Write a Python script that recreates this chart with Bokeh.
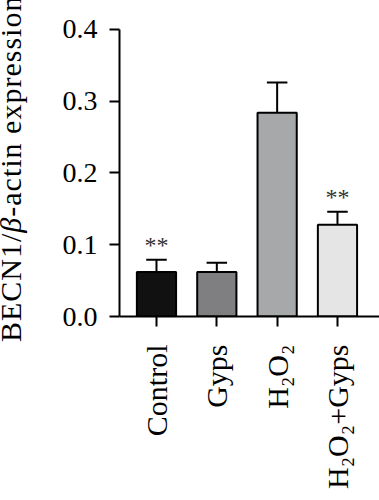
import math
from bokeh.plotting import figure
from bokeh.layouts import row
from bokeh.models import ColumnDataSource, FixedTicker, Range1d, Div
from bokeh.core.properties import value
from bokeh.embed import file_html
from bokeh.resources import INLINE

groups = ["Control", "Gyps", "H\u2082O\u2082", "H\u2082O\u2082+Gyps"]
means = [0.062, 0.062, 0.284, 0.128]
errs = [0.017, 0.013, 0.042, 0.018]
colors = ["#111111", "#7f7f81", "#a7a8aa", "#e5e5e5"]
stars = ["**", "", "", "**"]
yticks = [0.0, 0.1, 0.2, 0.3, 0.4]
ylabel_parts = ["BECN1/", "\u03b2", "-actin expression"]

FONT = "Liberation Serif"
xs = list(range(len(groups)))
tops = [m + e for m, e in zip(means, errs)]

DIVW = 30
H = 492
FW = 371 - DIVW
MBL = 79
X0 = -0.613
X1 = X0 + (FW - MBL) / 60.33
Y0, Y1 = 0.0, 0.4264
p = figure(width=FW, height=H, output_backend="svg", toolbar_location=None,
           x_range=Range1d(X0, X1), y_range=Range1d(Y0, Y1),
           min_border_left=MBL, min_border_right=0, min_border_top=10,
           min_border_bottom=175)
p.outline_line_color = None
p.grid.visible = False
p.background_fill_color = "white"

src = ColumnDataSource(dict(x=xs, m=means, top=tops, c=colors,
                            xl=[x - 0.17 for x in xs], xr=[x + 0.17 for x in xs],
                            s=stars))
p.segment(x0="x", y0="m", x1="x", y1="top", source=src, line_color="black", line_width=2)
p.segment(x0="xl", y0="top", x1="xr", y1="top", source=src, line_color="black", line_width=2)
p.vbar(x="x", top="m", bottom=0, width=0.65, source=src, fill_color="c",
       line_color="black", line_width=2)
p.text(x="x", y="top", text="s", source=src, text_font=value(FONT), text_font_size="24px",
       text_align="center", text_baseline="bottom", y_offset=-2, text_color="#333333")

xa = p.xaxis[0]
xa.ticker = FixedTicker(ticks=xs)
xa.major_label_overrides = {i: g for i, g in enumerate(groups)}
xa.major_label_orientation = math.pi / 2
xa.major_label_text_font = FONT
xa.major_label_text_font_size = "30px"
xa.major_label_text_color = "black"
xa.major_label_standoff = 18
xa.major_tick_out = 10
xa.major_tick_in = 0
xa.minor_tick_line_color = None
xa.axis_line_width = 2
xa.major_tick_line_width = 2
xa.axis_line_color = "black"

ya = p.yaxis[0]
ya.ticker = FixedTicker(ticks=yticks)
ya.major_label_overrides = {t: "%.1f" % t for t in yticks}
ya.bounds = (0, 0.4)
ya.major_label_text_font = FONT
ya.major_label_text_font_size = "28px"
ya.major_label_text_color = "black"
ya.major_label_standoff = 12
ya.major_tick_out = 10
ya.major_tick_in = 0
ya.minor_tick_line_color = None
ya.axis_line_width = 2
ya.major_tick_line_width = 2

# y-axis title as rotated HTML (italic beta)
title_html = ("<div style=\"position:relative;width:%dpx;height:%dpx;\">"
              "<span style=\"position:absolute;left:-8px;top:337px;white-space:nowrap;"
              "font-family:'Liberation Serif';font-size:30px;line-height:28px;color:black;"
              "letter-spacing:1px;transform-origin:0 0;transform:rotate(-90deg);\">"
              "%s<i>%s</i>%s</span></div>") % (DIVW, H, ylabel_parts[0], ylabel_parts[1],
                                                ylabel_parts[2])
div = Div(text=title_html, width=DIVW, height=H)

layout = row(div, p)
open("out.html", "w").write(file_html(layout, INLINE))
